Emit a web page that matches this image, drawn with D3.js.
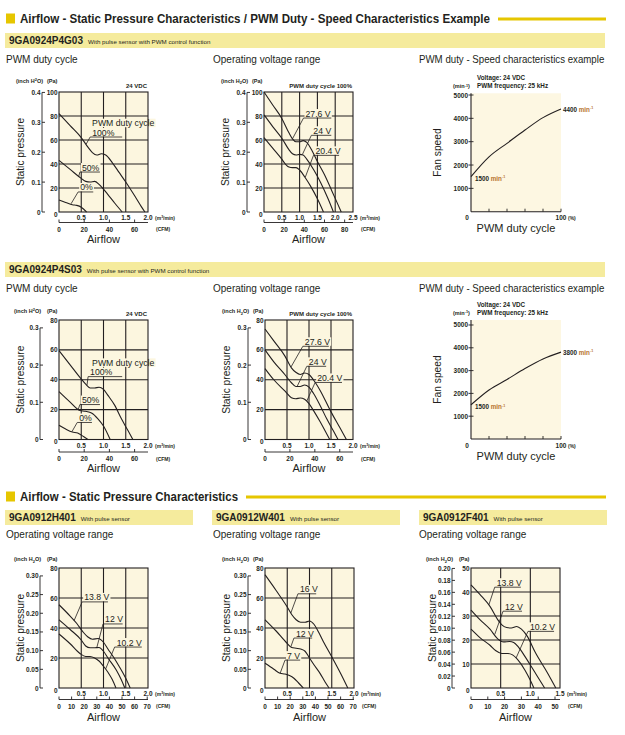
<!DOCTYPE html>
<html>
<head>
<meta charset="utf-8">
<script src="https://cdn.jsdelivr.net/npm/d3@7"></script>
<style>
  body { margin: 0; background: #fff; }
  svg { display: block; }
  text { font-family: 'Liberation Sans', Arial, Helvetica, sans-serif; fill: #231f20; }
</style>
</head>
<body>
<svg id="chart" width="625" height="735"></svg>
<script>
// ---- data (Pa vs m3/min) ----
// 9GA0924P4G03
const g03DutyLabels = ['100%', '50%', '0%']
const g03Duty100 = [[0, 82], [0.25, 72], [0.5, 62], [0.65, 54], [0.75, 49.5], [0.85, 47.5], [0.95, 48.5], [1.05, 47.5], [1.2, 41], [1.35, 33], [1.5, 25], [1.7, 13.5], [1.85, 4.5], [1.93, 0]]
const g03Duty50 = [[0, 43], [0.25, 35.5], [0.5, 28], [0.6, 25.5], [0.7, 25], [0.8, 25.5], [0.9, 23], [1.0, 19], [1.1, 14.5], [1.25, 7.5], [1.42, 0]]
const g03Duty0 = [[0, 10], [0.15, 8], [0.3, 6], [0.4, 5.5], [0.5, 4], [0.62, 0]]
const g03VoltLabels = ['27.6 V', '24 V', '20.4 V']
const g03Volt276 = [[0, 100], [0.25, 89], [0.5, 78], [0.7, 66], [0.8, 61], [0.9, 58.5], [1.0, 58.5], [1.1, 59.5], [1.2, 58], [1.35, 51], [1.5, 42], [1.7, 31], [1.9, 18], [2.05, 8], [2.17, 0]]
const g03Volt24 = [[0, 81], [0.25, 71], [0.5, 61.5], [0.7, 52], [0.8, 48.5], [0.9, 47.5], [1.0, 48], [1.1, 47.5], [1.2, 44], [1.4, 35], [1.6, 24], [1.8, 11], [1.95, 0]]
const g03Volt204 = [[0, 62], [0.25, 53], [0.5, 44], [0.6, 40], [0.7, 37.5], [0.8, 37], [0.9, 37], [1.0, 35], [1.15, 29], [1.3, 22], [1.5, 11], [1.67, 0]]
// 9GA0924P4S03
const s03DutyLabels = ['100%', '50%', '0%']
const s03Duty100 = [[0, 59.5], [0.25, 50], [0.5, 40.5], [0.6, 37], [0.7, 34.5], [0.8, 34.5], [0.9, 35], [1.0, 33.5], [1.1, 29.5], [1.25, 23], [1.4, 14], [1.55, 6], [1.66, 0]]
const s03Duty50 = [[0, 32], [0.25, 25], [0.47, 19.4], [0.59, 18.9], [0.74, 17.6], [0.87, 14], [1.0, 9], [1.15, 0]]
const s03Duty0 = [[0, 9.5], [0.15, 7], [0.3, 5], [0.42, 4.3], [0.55, 2], [0.65, 0]]
const s03VoltLabels = ['27.6 V', '24 V', '20.4 V']
const s03Volt276 = [[0, 74], [0.2, 66], [0.45, 56], [0.6, 48], [0.7, 45], [0.8, 43.5], [0.9, 44.5], [1.0, 43.5], [1.1, 40], [1.25, 33], [1.5, 18.5], [1.7, 8], [1.85, 0]]
const s03Volt24 = [[0, 60], [0.2, 52], [0.45, 43.5], [0.6, 38], [0.7, 35.5], [0.8, 35.5], [0.9, 36.5], [1.0, 35], [1.1, 31], [1.25, 23], [1.4, 14], [1.55, 6], [1.66, 0]]
const s03Volt204 = [[0, 47.5], [0.2, 40], [0.45, 32.5], [0.6, 28], [0.7, 27.3], [0.8, 27.8], [0.9, 27], [1.0, 24], [1.1, 19.5], [1.25, 12], [1.38, 5], [1.47, 0]]
// 9GA0912H401
const h401Labels = ['13.8 V', '12 V', '10.2 V']
const h401Volt138 = [[0, 55.5], [0.2, 49.5], [0.4, 43], [0.55, 37], [0.65, 34], [0.75, 32.5], [0.88, 33], [1.0, 30.5], [1.1, 26], [1.22, 20.8], [1.35, 14.5], [1.5, 6.5], [1.6, 0]]
const h401Volt12 = [[0, 45.5], [0.25, 39], [0.5, 32], [0.6, 28], [0.7, 26.8], [0.8, 26.8], [0.9, 27], [1.0, 24.5], [1.1, 20], [1.29, 11.8], [1.4, 5.5], [1.48, 0]]
const h401Volt102 = [[0, 36], [0.25, 29.5], [0.47, 23], [0.6, 21], [0.7, 21], [0.8, 20], [0.9, 18], [1.0, 14.5], [1.1, 10.5], [1.2, 5.5], [1.28, 0]]
// 9GA0912W401
const w401Labels = ['16 V', '12 V', '7 V']
const w401Volt16 = [[0, 75.5], [0.25, 65], [0.5, 54], [0.6, 49], [0.7, 45.5], [0.8, 43.8], [0.9, 43.8], [1.0, 44.7], [1.1, 42.5], [1.2, 37.5], [1.31, 31], [1.5, 20.8], [1.72, 8.5], [1.86, 0]]
const w401Volt12 = [[0, 45.5], [0.25, 38], [0.49, 30], [0.6, 27], [0.7, 26.5], [0.8, 26], [0.9, 24.5], [1.0, 20], [1.1, 15.5], [1.24, 9.6], [1.35, 4], [1.44, 0]]
const w401Volt7 = [[0, 16.5], [0.2, 12.5], [0.34, 9.8], [0.45, 9.3], [0.55, 8.3], [0.65, 6.5], [0.75, 3.5], [0.86, 0]]
// 9GA0912F401
const f401Labels = ['13.8 V', '12 V', '10.2 V']
const f401Volt138 = [[0, 43], [0.15, 39], [0.32, 34], [0.45, 28.5], [0.52, 26.3], [0.6, 25.2], [0.68, 25], [0.77, 25.6], [0.85, 24.5], [0.95, 21.5], [1.08, 15], [1.28, 6.7], [1.43, 0]]
const f401Volt12 = [[0, 32.5], [0.15, 28.5], [0.32, 24.5], [0.45, 20.5], [0.55, 19.2], [0.65, 19.4], [0.72, 19], [0.8, 17], [0.9, 13.5], [0.99, 10], [1.12, 4.8], [1.24, 0]]
const f401Volt102 = [[0, 24.5], [0.15, 21], [0.32, 17.8], [0.42, 15.5], [0.52, 14.4], [0.62, 14.4], [0.7, 13.8], [0.78, 12], [0.91, 7.4], [1.0, 3.2], [1.06, 0]]

// PWM duty - speed (min-1)
const dutyPct = [0, 20, 40, 60, 80, 100]
const g03Speed = [1500, 2350, 2930, 3500, 4030, 4400]
const s03Speed = [1500, 2150, 2610, 3090, 3510, 3810]
const g03SpeedLabels = ['1500', '4400']
const s03SpeedLabels = ['1500', '3800']

// tick labels
const flowTicks20 = [0.5, 1.0, 1.5, 2.0]
const flowTicks25 = [0.5, 1.0, 1.5, 2.0, 2.5]
const flowTicks15 = [0.5, 1.0, 1.5]
const paTicks100 = [20, 40, 60, 80, 100]
const paTicks80 = [20, 40, 60, 80]
const paTicks50 = [10, 20, 30, 40, 50]
const inchTicks04 = [0, 0.1, 0.2, 0.3, 0.4]
const inchTicks03 = [0, 0.1, 0.2, 0.3]
const inchTicks030 = [0, 0.05, 0.10, 0.15, 0.20, 0.25, 0.30]
const inchTicks020 = [0, 0.02, 0.04, 0.06, 0.08, 0.10, 0.12, 0.14, 0.16, 0.18, 0.20]
const cfmTicks60 = [0, 20, 40, 60]
const cfmTicks80 = [0, 20, 40, 60, 80]
const cfmTicks70 = [0, 10, 20, 30, 40, 50, 60, 70]
const cfmTicks50 = [0, 10, 20, 30, 40, 50]
const speedTicks = [1000, 2000, 3000, 4000, 5000]
const dutyTicks = [20, 40, 60, 80, 100]

const PA_PER_INCH = 249.09
const CFM_PER_M3 = 35.3147
const ink = '#231f20'
const gold = '#e6c600'
const bandFill = '#f5eb9d'
const plotBg = '#fcf6df'
const speedBg = '#fdf7e2'

const svg = d3.select('#chart')

function txt(parent, x, y, str, size, opt = {}) {
  const t = parent.append('text')
    .attr('transform', `translate(${x},${y})${opt.rotate ? ` rotate(${opt.rotate})` : ''} scale(${opt.sx ?? 1},1)`)
    .attr('font-size', size)
    .attr('text-anchor', opt.anchor || 'start')
    .attr('font-weight', opt.weight || 'normal')
  if (opt.fill) t.attr('fill', opt.fill)
  if (str !== null) t.text(str)
  return t
}

// text on a knock-out box in the plot colour
function boxedTxt(parent, x, y, str, size) {
  const box = parent.append('rect').attr('fill', plotBg)
  const t = txt(parent, x, y, str, size)
  const b = t.node().getBBox()
  box.attr('x', x + b.x - 1).attr('y', y + b.y + 0.5).attr('width', b.width + 2).attr('height', b.height - 1.5)
  return t
}

function hline(g, x1, x2, y, w = 1) {
  g.append('line').attr('x1', x1).attr('x2', x2).attr('y1', y).attr('y2', y).attr('stroke', ink).attr('stroke-width', w)
}
function vline(g, x, y1, y2, w = 1) {
  g.append('line').attr('x1', x).attr('x2', x).attr('y1', y1).attr('y2', y2).attr('stroke', ink).attr('stroke-width', w)
}

// ---- headers ----
function sectionTitle(y, text, len, lineX1) {
  svg.append('rect').attr('x', 6).attr('y', y - 9.5).attr('width', 9).attr('height', 10).attr('fill', gold)
  svg.append('text').attr('x', 20).attr('y', y).attr('font-size', 12.5).attr('font-weight', 'bold')
    .attr('textLength', len).attr('lengthAdjust', 'spacingAndGlyphs').text(text)
  svg.append('line').attr('x1', lineX1).attr('x2', 606).attr('y1', y - 4).attr('y2', y - 4)
    .attr('stroke', gold).attr('stroke-width', 3)
}

function band(x, y, w, model, note) {
  svg.append('rect').attr('x', x).attr('y', y).attr('width', w).attr('height', 15).attr('fill', bandFill)
  const t = txt(svg, x + 4, y + 11, model, 10, { weight: 'bold' })
  const mw = t.node().getComputedTextLength()
  txt(svg, x + 4 + mw + 5, y + 10.5, note, 6.2, { fill: '#333' })
}

sectionTitle(23, 'Airflow - Static Pressure Characteristics / PWM Duty - Speed Characteristics Example', 470, 498)
band(5, 33, 600, '9GA0924P4G03', 'With pulse sensor with PWM control function')
txt(svg, 6, 62.5, 'PWM duty cycle', 10)
txt(svg, 213, 62.5, 'Operating voltage range', 10)
txt(svg, 419, 62.5, 'PWM duty - Speed characteristics example', 10, { sx: 0.97 })

band(5, 262, 600, '9GA0924P4S03', 'With pulse sensor with PWM control function')
txt(svg, 6, 291.5, 'PWM duty cycle', 10)
txt(svg, 213, 291.5, 'Operating voltage range', 10)
txt(svg, 419, 291.5, 'PWM duty - Speed characteristics example', 10, { sx: 0.97 })

sectionTitle(501, 'Airflow - Static Pressure Characteristics', 218, 246)
band(5, 510, 188, '9GA0912H401', 'With pulse sensor')
band(212, 510, 188, '9GA0912W401', 'With pulse sensor')
band(419, 510, 188, '9GA0912F401', 'With pulse sensor')
txt(svg, 6, 538, 'Operating voltage range', 10)
txt(svg, 213, 538, 'Operating voltage range', 10)
txt(svg, 419, 538, 'Operating voltage range', 10)

// ---- airflow / static pressure chart ----
function pqChart(o) {
  const g = svg.append('g')
  const bottom = o.top + o.height
  const right = o.left + o.width
  const x = d3.scaleLinear().domain([0, o.xMax]).range([o.left, right])
  const y = d3.scaleLinear().domain([0, o.yMax]).range([bottom, o.top])
  const yIn = d3.scaleLinear().domain([0, o.yMax / PA_PER_INCH]).range([bottom, o.top])
  const xCfm = d3.scaleLinear().domain([0, o.xMax * CFM_PER_M3]).range([o.left, right])

  g.append('rect').attr('x', o.left).attr('y', o.top).attr('width', o.width).attr('height', o.height).attr('fill', plotBg)
  o.flowTicks.filter(d => d < o.xMax - 1e-9).forEach(d => vline(g, x(d), o.top, bottom, 1.1))
  o.paTicks.filter(d => d < o.yMax - 1e-9).forEach(d => hline(g, o.left, right, y(d), 1.1))

  // annotations (knock-out text over the grid)
  if (o.header) boxedTxt(g, x(o.header.x), y(o.header.y), o.header.text, 8.7)
  o.notes.forEach((n, i) => boxedTxt(g, x(n.x1) + 2, y(n.y) - 1.5, o.labels[i], 8.7))
  o.notes.forEach(n => {
    hline(g, x(n.x1), x(n.x2), y(n.y), 0.8)
    g.append('line').attr('x1', x(n.x1)).attr('y1', y(n.y)).attr('x2', x(n.tx)).attr('y2', y(n.ty))
      .attr('stroke', ink).attr('stroke-width', 0.8)
  })

  g.append('rect').attr('x', o.left).attr('y', o.top).attr('width', o.width).attr('height', o.height)
    .attr('fill', 'none').attr('stroke', ink).attr('stroke-width', 1.1)

  const line = d3.line().x(d => x(d[0])).y(d => y(d[1])).curve(d3.curveMonotoneX)
  g.selectAll(null).data(o.curves).join('path')
    .attr('d', line).attr('fill', 'none').attr('stroke', ink).attr('stroke-width', 1.1)

  // Pa ticks
  o.paTicks.forEach(d => txt(g, o.left - 1.5, y(d) + 2.5, String(d), 7.2, { anchor: 'end', weight: 'bold', sx: 0.9 }))
  txt(g, o.left - 1.5, bottom + 4.5, '0', 7.2, { anchor: 'end', weight: 'bold', sx: 0.9 })
  // m3/min ticks
  o.flowTicks.forEach(d => txt(g, x(d), bottom + 8, d3.format('.1f')(d), 7.2, { anchor: 'middle', weight: 'bold', sx: 0.9 }))
  const m3 = txt(g, right + 7, bottom + 8, null, 5, { weight: 'bold' })
  m3.append('tspan').text('(m')
  m3.append('tspan').attr('font-size', 3.5).attr('dy', -1.8).text('3')
  m3.append('tspan').attr('dy', 1.8).text('/min)')

  // inch H2O axis
  const inchTop = o.inchTicks[o.inchTicks.length - 1]
  vline(g, o.inchX, yIn(0), yIn(inchTop), 0.9)
  o.inchTicks.forEach(d => {
    hline(g, o.inchX, o.inchX + 3, yIn(d), 0.9)
    txt(g, o.inchX - 1.5, yIn(d) + 2.5, d === 0 ? '0' : d3.format(o.inchFmt)(d), 7.2, { anchor: 'end', weight: 'bold', sx: 0.9 })
  })

  // CFM axis
  const cy = bottom + o.cfmGap
  hline(g, o.left, right, cy, 0.9)
  o.cfmTicks.forEach(d => {
    vline(g, xCfm(d), cy, cy - 3, 0.9)
    txt(g, xCfm(d), cy + 9, String(d), 7.2, { anchor: 'middle', weight: 'bold', sx: 0.9 })
  })
  txt(g, right + 8, cy + 8.5, '(CFM)', 5, { weight: 'bold' })

  // titles
  txt(g, (o.left + right) / 2, bottom + o.airflowGap, 'Airflow', 11, { anchor: 'middle' })
  txt(g, o.left - 35, o.top + o.height / 2, 'Static pressure', 11, { anchor: 'middle', rotate: -90, sx: 0.93 })
  const unit = txt(g, o.inchX - 26, o.top + o.unitDy, null, 5.5, { weight: 'bold' })
  unit.append('tspan').text('(inch H')
  unit.append('tspan').attr('font-size', 4).attr('dy', o.h2o === 'sup' ? -1.8 : 1.5).text('2')
  unit.append('tspan').attr('dy', o.h2o === 'sup' ? 1.8 : -1.5).text('O)')
  txt(g, o.left - 12, o.top + o.unitDy, '(Pa)', 5.5, { weight: 'bold' })
  if (o.corner) txt(g, right - 1, o.top - 4, o.corner, 6, { anchor: 'end', weight: 'bold' })
}

// ---- PWM duty - speed chart ----
function speedChart(o) {
  const g = svg.append('g')
  const bottom = o.top + o.height
  const right = o.left + o.width
  const x = d3.scaleLinear().domain([0, 100]).range([o.left, right])
  const y = d3.scaleLinear().domain([0, o.yMax]).range([bottom, o.top])

  g.append('rect').attr('x', o.left).attr('y', o.top).attr('width', o.width).attr('height', o.height).attr('fill', speedBg)
  const line = d3.line().x((d, i) => x(dutyPct[i])).y(d => y(d)).curve(d3.curveMonotoneX)
  g.append('path').datum(o.values).attr('d', line).attr('fill', 'none').attr('stroke', ink).attr('stroke-width', 1.1)

  vline(g, o.left, bottom, o.top, 1.1)
  hline(g, o.left, right, bottom, 1.1)
  speedTicks.forEach(d => {
    hline(g, o.left - 2.5, o.left + 2.5, y(d), 0.9)
    txt(g, o.left - 3, y(d) + 2.5, String(d), 7.2, { anchor: 'end', weight: 'bold', sx: 0.9 })
  })
  dutyTicks.forEach(d => vline(g, x(d), bottom, bottom - 3, 0.9))
  txt(g, o.left - 4, bottom + 8.5, '0', 7.2, { anchor: 'middle', weight: 'bold', sx: 0.9 })
  txt(g, right, bottom + 8.5, '100', 7.2, { anchor: 'middle', weight: 'bold', sx: 0.9 })
  txt(g, right + 7, bottom + 8.5, '(%)', 5, { weight: 'bold' })

  const minUnit = (t, size) => {
    t.append('tspan').attr('fill', '#b8742f').text('min')
    t.append('tspan').attr('fill', '#b8742f').attr('font-size', size * 0.6).attr('dy', -size * 0.4).text('-1')
  }
  const last = o.values[o.values.length - 1]
  const endT = txt(g, right + 2, y(last) + 2.5, null, 7, { weight: 'bold', sx: 0.9 })
  endT.append('tspan').text(`${o.labels[1]} `)
  minUnit(endT, 7)
  const startT = txt(g, o.left + 4, y(o.values[0]) + 4.5, null, 7, { weight: 'bold', sx: 0.9 })
  startT.append('tspan').text(`${o.labels[0]} `)
  minUnit(startT, 7)

  const unitT = txt(g, o.left - 18, o.top - 5, null, 5.5, { weight: 'bold' })
  unitT.append('tspan').text('(min')
  unitT.append('tspan').attr('font-size', 3.8).attr('dy', -1.8).text('-1')
  unitT.append('tspan').attr('dy', 1.8).text(')')
  txt(g, o.left + 6, o.top - 13.5, 'Voltage: 24 VDC', 6.3, { weight: 'bold' })
  txt(g, o.left + 6, o.top - 5, 'PWM frequency: 25 kHz', 6.3, { weight: 'bold' })

  txt(g, o.left - 30, o.top + o.height / 2, 'Fan speed', 11, { anchor: 'middle', rotate: -90, sx: 0.93 })
  txt(g, (o.left + right) / 2, bottom + 20.5, 'PWM duty cycle', 11, { anchor: 'middle' })
}

// ---- draw ----
pqChart({
  left: 59, top: 92, width: 89, height: 120, xMax: 2, yMax: 100,
  flowTicks: flowTicks20, paTicks: paTicks100, inchTicks: inchTicks04, inchFmt: '.1f', inchX: 42,
  cfmTicks: cfmTicks60, cfmGap: 10.5, airflowGap: 31, unitDy: -9.5, h2o: 'sup', corner: '24 VDC',
  curves: [g03Duty100, g03Duty50, g03Duty0], labels: g03DutyLabels,
  header: { text: 'PWM duty cycle', x: 0.744, y: 71.5 },
  notes: [
    { x1: 0.70, x2: 1.42, y: 62.5, tx: 0.61, ty: 56.5 },
    { x1: 0.47, x2: 0.92, y: 33.3, tx: 0.44, ty: 29.4 },
    { x1: 0.43, x2: 0.77, y: 16.7, tx: 0.27, ty: 6.8 }
  ]
})
pqChart({
  left: 264, top: 92, width: 89, height: 120, xMax: 2.5, yMax: 100,
  flowTicks: flowTicks25, paTicks: paTicks100, inchTicks: inchTicks04, inchFmt: '.1f', inchX: 247,
  cfmTicks: cfmTicks80, cfmGap: 10.5, airflowGap: 31, unitDy: -9.5, h2o: 'sub', corner: 'PWM duty cycle 100%',
  curves: [g03Volt276, g03Volt24, g03Volt204], labels: g03VoltLabels,
  notes: [
    { x1: 1.11, x2: 1.89, y: 78.3, tx: 0.80, ty: 61 },
    { x1: 1.33, x2: 1.89, y: 63.9, tx: 1.08, ty: 48 },
    { x1: 1.39, x2: 2.11, y: 47.2, tx: 1.16, ty: 29 }
  ]
})
speedChart({ left: 471, top: 93.3, width: 90, height: 118.4, yMax: 5073, values: g03Speed, labels: g03SpeedLabels })

pqChart({
  left: 59, top: 320, width: 89, height: 119.5, xMax: 2, yMax: 80,
  flowTicks: flowTicks20, paTicks: paTicks80, inchTicks: inchTicks03, inchFmt: '.1f', inchX: 40,
  cfmTicks: cfmTicks60, cfmGap: 12.5, airflowGap: 32, unitDy: -7, h2o: 'sup', corner: '24 VDC',
  curves: [s03Duty100, s03Duty50, s03Duty0], labels: s03DutyLabels,
  header: { text: 'PWM duty cycle', x: 0.744, y: 49.3 },
  notes: [
    { x1: 0.654, x2: 1.42, y: 42.1, tx: 0.63, ty: 36.5 },
    { x1: 0.47, x2: 0.92, y: 23.4, tx: 0.43, ty: 20 },
    { x1: 0.41, x2: 0.74, y: 11.4, tx: 0.29, ty: 5.2 }
  ]
})
pqChart({
  left: 265, top: 320, width: 88, height: 119.5, xMax: 2, yMax: 80,
  flowTicks: flowTicks20, paTicks: paTicks80, inchTicks: inchTicks03, inchFmt: '.1f', inchX: 248,
  cfmTicks: cfmTicks60, cfmGap: 12.5, airflowGap: 32, unitDy: -7, h2o: 'sub', corner: 'PWM duty cycle 100%',
  curves: [s03Volt276, s03Volt24, s03Volt204], labels: s03VoltLabels,
  notes: [
    { x1: 0.86, x2: 1.45, y: 62.4, tx: 0.59, ty: 48.5 },
    { x1: 0.95, x2: 1.39, y: 49, tx: 0.73, ty: 35.5 },
    { x1: 1.14, x2: 1.75, y: 38.2, tx: 0.95, ty: 25.8 }
  ]
})
speedChart({ left: 471, top: 320, width: 90, height: 119, yMax: 5219, values: s03Speed, labels: s03SpeedLabels })

pqChart({
  left: 59, top: 568, width: 89, height: 120, xMax: 2, yMax: 80,
  flowTicks: flowTicks20, paTicks: paTicks80, inchTicks: inchTicks030, inchFmt: '.2f', inchX: 40,
  cfmTicks: cfmTicks70, cfmGap: 11.5, airflowGap: 33, unitDy: -7, h2o: 'sub',
  curves: [h401Volt138, h401Volt12, h401Volt102], labels: h401Labels,
  notes: [
    { x1: 0.52, x2: 1.10, y: 57.4, tx: 0.34, ty: 45 },
    { x1: 0.99, x2: 1.43, y: 42.7, tx: 0.85, ty: 27 },
    { x1: 1.25, x2: 1.86, y: 27.3, tx: 1.05, ty: 12.8 }
  ]
})
pqChart({
  left: 265, top: 568, width: 89, height: 120, xMax: 2, yMax: 80,
  flowTicks: flowTicks20, paTicks: paTicks80, inchTicks: inchTicks030, inchFmt: '.2f', inchX: 248,
  cfmTicks: cfmTicks70, cfmGap: 11.5, airflowGap: 33, unitDy: -7, h2o: 'sub',
  curves: [w401Volt16, w401Volt12, w401Volt7], labels: w401Labels,
  notes: [
    { x1: 0.74, x2: 1.15, y: 62.8, tx: 0.58, ty: 50 },
    { x1: 0.65, x2: 1.06, y: 33.3, tx: 0.58, ty: 27.4 },
    { x1: 0.45, x2: 0.79, y: 18.6, tx: 0.34, ty: 9.8 }
  ]
})
pqChart({
  left: 471, top: 568, width: 89, height: 120, xMax: 1.5, yMax: 50,
  flowTicks: flowTicks15, paTicks: paTicks50, inchTicks: inchTicks020, inchFmt: '.2f', inchX: 452,
  cfmTicks: cfmTicks50, cfmGap: 11.5, airflowGap: 33, unitDy: -7, h2o: 'sub',
  curves: [f401Volt138, f401Volt12, f401Volt102], labels: f401Labels,
  notes: [
    { x1: 0.40, x2: 0.84, y: 42, tx: 0.30, ty: 34.6 },
    { x1: 0.54, x2: 0.86, y: 32, tx: 0.40, ty: 22.3 },
    { x1: 0.96, x2: 1.40, y: 23.6, tx: 0.76, ty: 12.5 }
  ]
})
</script>
</body>
</html>
